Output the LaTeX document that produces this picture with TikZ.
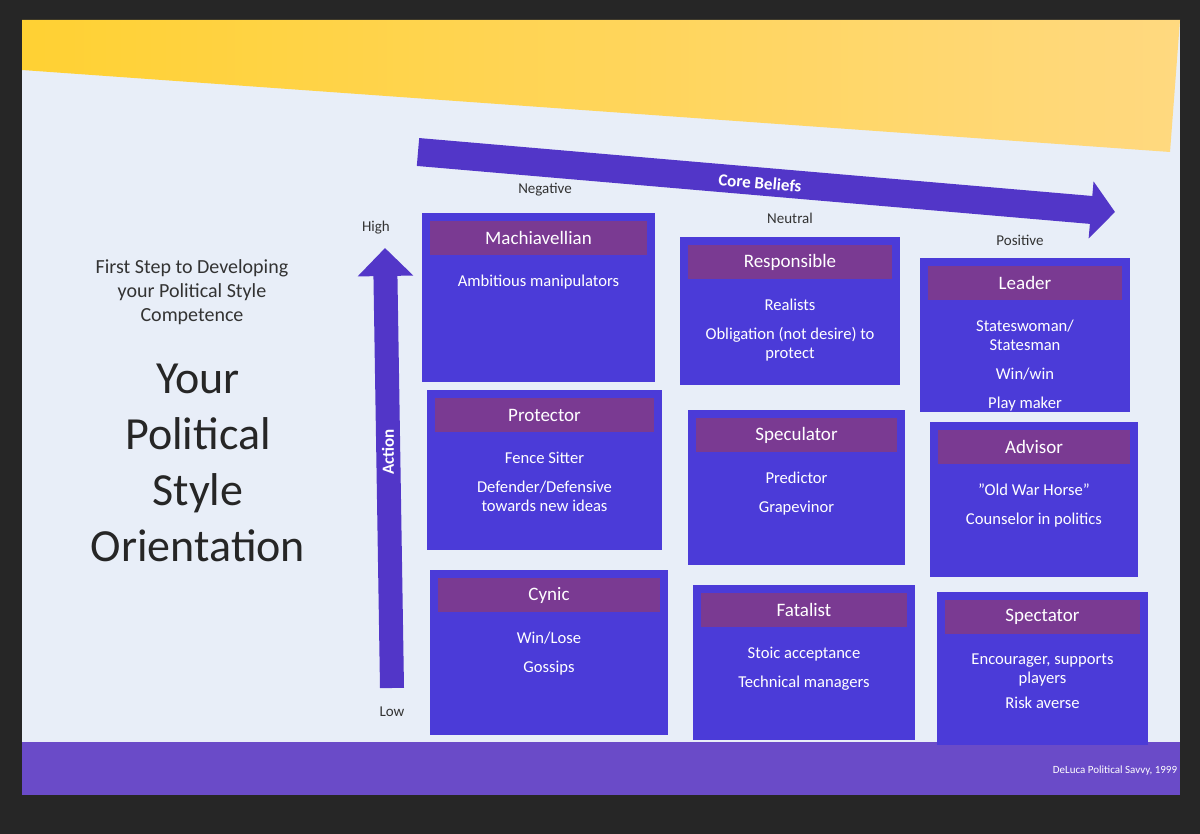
\documentclass[tikz,border=0pt]{standalone}
\usepackage{fontspec}
\setmainfont{Carlito}
\usetikzlibrary{arrows.meta,calc}
\definecolor{boxblue}{HTML}{4B3BD8}
\definecolor{hdr}{HTML}{7A3A92}
\definecolor{arrowc}{HTML}{5236C8}
\definecolor{slide}{HTML}{E8EEF8}
\definecolor{band}{HTML}{6A4BC8}
\tikzset{
  hdrtext/.style={text=white,font=\fontsize{9.5}{11}\selectfont},
  bodytext/.style={text=white,font=\fontsize{8.3}{9.5}\selectfont,align=center,anchor=north},
  lbl/.style={text=black!80,font=\fontsize{7.5}{9}\selectfont}
}
\newcommand\polbox[7]{%
  \fill[boxblue] (#2,#3) rectangle (#4,#5);
  \fill[hdr] ({#2+8},{#3+8}) rectangle ({#4-8},{#3+42});
  \node[hdrtext] (#1-t) at ({(#2+#4)/2},{#3+25}) {#6};
  \node[bodytext] (#1-b) at ({(#2+#4)/2},{#3+55}) {#7};
}
\begin{document}
\begin{tikzpicture}[x=0.5pt,y=-0.5pt]
\fill[black!85] (0,0) rectangle (1200,834);
\useasboundingbox (0,0) rectangle (1200,834);
% slide
\fill[slide] (22,20) rectangle (1180,795);
\shade[left color=yellow!55!orange!80,right color=yellow!40!orange!50!white] (22,20) -- (1180,20) -- (1170,152) -- (22,70) -- cycle;
\fill[band] (22,742) rectangle (1180,795);
\node[text=white,font=\fontsize{5.5}{6}\selectfont] (foot) at (1115,771) {DeLuca Political Savvy, 1999};
% left text
\node[text=black!80,align=center,font=\fontsize{10}{12}\selectfont] (sub) at (192,292) {First Step to Developing\\ your Political Style\\ Competence};
\node[text=black!85,align=center,font=\fontsize{23}{28}\selectfont] (title) at (198,463) {Your\\ Political\\ Style\\ Orientation};
% core beliefs arrow
\coordinate (cbs) at (418,152);
\coordinate (cbe) at (1115,212);
\draw[arrowc,line width=14pt,-{Triangle[length=12pt,width=28pt]}] (cbs) -- (cbe);
\node[text=white,font=\bfseries\fontsize{8.5}{10}\selectfont,rotate=-5] (cb) at (760,183) {Core Beliefs};
\node[lbl] (neg) at (545,190) {Negative};
\node[lbl] (neu) at (790,218) {Neutral};
\node[lbl] (pos) at (1020,240) {Positive};
% action arrow
\coordinate (as) at (392,688);
\coordinate (ae) at (385,248);
\draw[arrowc,line width=12pt,-{Triangle[length=14pt,width=27pt]}] (as) -- (ae);
\node[text=white,font=\bfseries\fontsize{8.5}{10}\selectfont,rotate=90] (act) at (388,452) {Action};
\node[lbl] (hi) at (376,228) {High};
\node[lbl] (lo) at (392,712) {Low};
% boxes
\polbox{mach}{422}{213}{655}{382}{Machiavellian}{Ambitious manipulators}
\polbox{resp}{680}{237}{900}{385}{Responsible}{Realists\\[5pt] Obligation (not desire) to\\ protect}
\polbox{lead}{920}{258}{1130}{412}{Leader}{Stateswoman/\\ Statesman\\[5pt] Win/win\\[5pt] Play maker}
\polbox{prot}{427}{390}{662}{550}{Protector}{Fence Sitter\\[5pt] Defender/Defensive\\ towards new ideas}
\polbox{spec}{688}{410}{905}{565}{Speculator}{Predictor\\[5pt] Grapevinor}
\polbox{adv}{930}{422}{1138}{577}{Advisor}{\symbol{34}Old War Horse\symbol{34}\\[5pt] Counselor in politics}
\polbox{cyn}{430}{570}{668}{735}{Cynic}{Win/Lose\\[5pt] Gossips}
\polbox{fat}{693}{585}{915}{740}{Fatalist}{Stoic acceptance\\[5pt] Technical managers}
\polbox{spt}{937}{592}{1148}{745}{Spectator}{Encourager, supports\\ players\\[3pt] Risk averse}
\end{tikzpicture}
\end{document}
